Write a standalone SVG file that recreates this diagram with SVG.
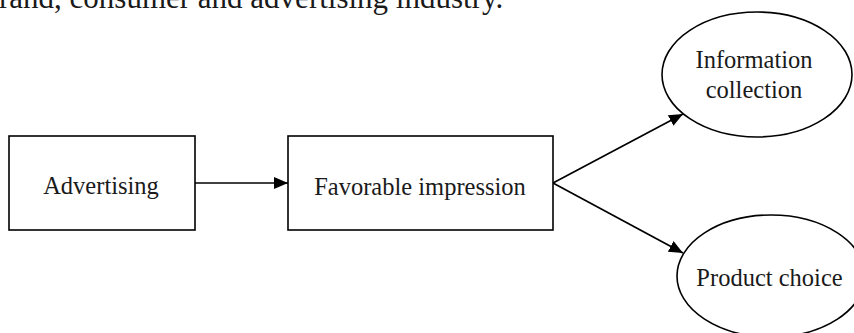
<svg xmlns="http://www.w3.org/2000/svg" width="854" height="333" viewBox="0 0 854 333">
<style>
.shape{fill:#fff;stroke:#000;stroke-width:1.6}
.lbl{font-family:"Liberation Serif","Times New Roman",serif;font-size:24.5px;fill:#1a1a1a;text-anchor:middle}
.edge{stroke:#000;stroke-width:1.7;fill:none}
</style>
<defs>
<marker id="arr" markerUnits="userSpaceOnUse" markerWidth="15" markerHeight="13" refX="14" refY="6" orient="auto">
<path d="M0,0 L14,6 L0,12 z" fill="#000"/>
</marker>
</defs>
<rect width="854" height="333" fill="#fff"/>
<text x="-1" y="7.5" font-family="Liberation Serif, Times New Roman, serif" font-size="31" fill="#1a1a1a">rand, consumer and advertising industry.</text>
<g id="connectors">
<line class="edge" x1="195" y1="183" x2="288" y2="183" marker-end="url(#arr)"/>
<line class="edge" x1="553" y1="183" x2="683" y2="114" marker-end="url(#arr)"/>
<line class="edge" x1="553" y1="183" x2="683" y2="253" marker-end="url(#arr)"/>
</g>
<g id="advertising">
<rect class="shape" x="9" y="136" width="186" height="94"/>
<text class="lbl" x="101" y="193.5">Advertising</text>
</g>
<g id="favorable">
<rect class="shape" x="288" y="136" width="265" height="94"/>
<text class="lbl" x="420" y="194.5">Favorable impression</text>
</g>
<g id="information">
<ellipse class="shape" cx="757" cy="74.5" rx="95" ry="62.5"/>
<text class="lbl" x="754" y="68">Information</text>
<text class="lbl" x="754" y="98">collection</text>
</g>
<g id="product">
<ellipse class="shape" cx="771" cy="276" rx="94" ry="61"/>
<text class="lbl" x="769.5" y="286">Product choice</text>
</g>
</svg>
